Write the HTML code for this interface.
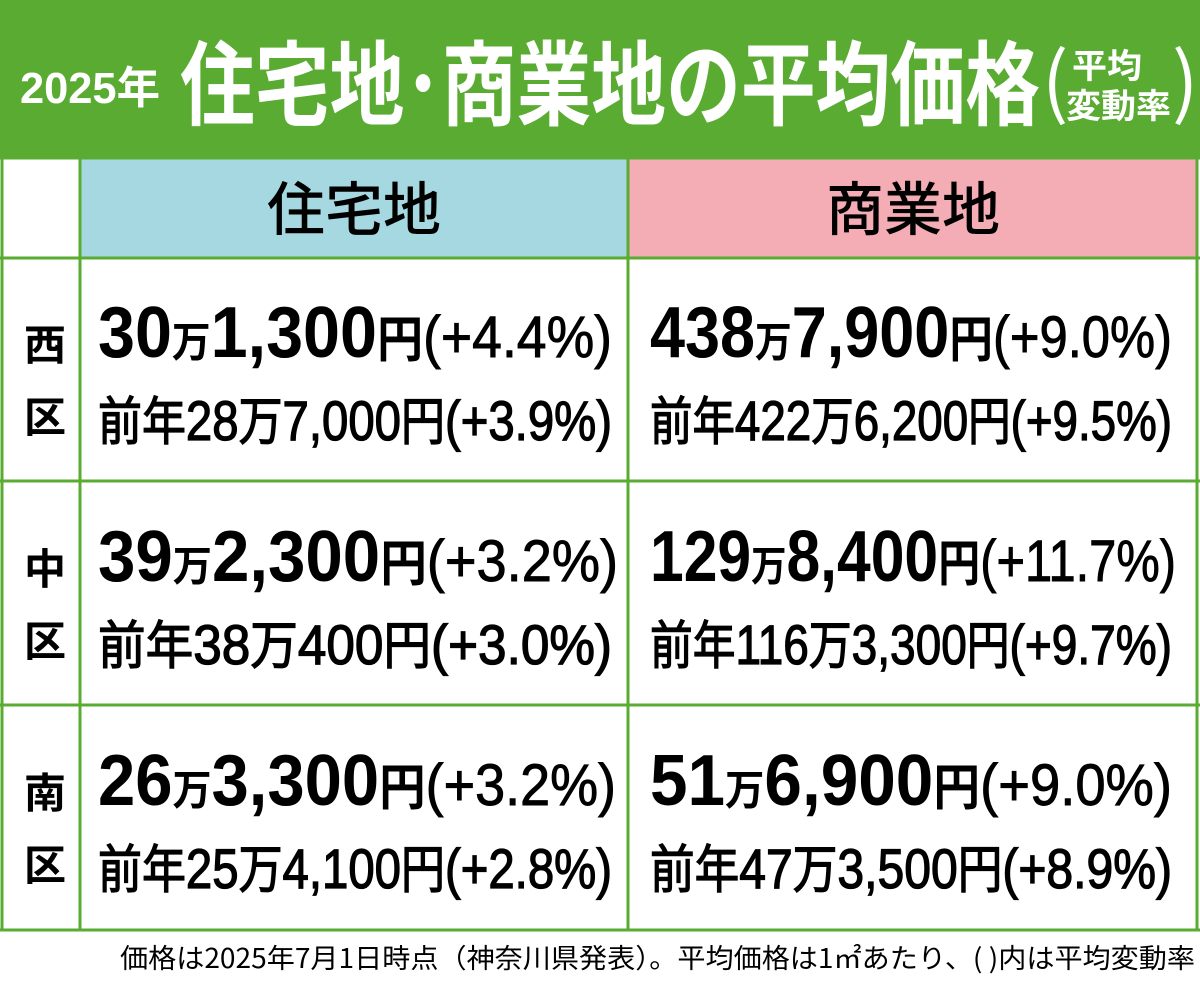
<!DOCTYPE html>
<html><head><meta charset="utf-8"><style>
html,body{margin:0;padding:0;background:#fff}
svg{display:block}
text{font-family:"Liberation Sans","Noto Sans CJK JP",sans-serif}
.j{font-family:"Noto Sans CJK JP","Liberation Sans",sans-serif}
.s{font-weight:normal;stroke:#000;stroke-width:1.3}
.p{font-weight:normal;stroke:#000;stroke-width:0.9}
</style></head><body>
<svg width="1200" height="981" viewBox="0 0 1200 981" xmlns="http://www.w3.org/2000/svg">
<rect x="0" y="0" width="1200" height="158" fill="#5aab32"/>
<text x="20" y="103" font-size="44" font-weight="bold" fill="#fff" textLength="140" lengthAdjust="spacingAndGlyphs">2025<tspan class="j">年</tspan></text>
<text class="j" x="180" y="118" font-size="92" font-weight="bold" fill="#fff" textLength="860" lengthAdjust="spacingAndGlyphs">住宅地･商業地の平均価格</text>
<text class="j" x="1042" y="110" font-size="78" fill="#fff">(</text>
<text class="j" x="1172" y="110" font-size="78" fill="#fff">)</text>
<text class="j" x="1072" y="78" font-size="34" font-weight="bold" fill="#fff" textLength="70" lengthAdjust="spacingAndGlyphs">平均</text>
<text class="j" x="1066" y="118" font-size="34" font-weight="bold" fill="#fff" textLength="105" lengthAdjust="spacingAndGlyphs">変動率</text>

<rect x="80" y="158" width="548" height="100" fill="#a5d8e0"/>
<rect x="628" y="158" width="569" height="100" fill="#f4adb5"/>
<g stroke="#5aab32" stroke-width="3" fill="none">
<line x1="0" y1="158" x2="1200" y2="158"/>
<line x1="0" y1="258" x2="1200" y2="258"/>
<line x1="0" y1="481" x2="1200" y2="481"/>
<line x1="0" y1="705" x2="1200" y2="705"/>
<line x1="0" y1="930" x2="1200" y2="930"/>
<line x1="2" y1="158" x2="2" y2="930"/>
<line x1="80" y1="158" x2="80" y2="930"/>
<line x1="628" y1="158" x2="628" y2="930"/>
<line x1="1197" y1="158" x2="1197" y2="930"/>
</g>
<text class="j" x="354" y="230" font-size="58" font-weight="500" text-anchor="middle">住宅地</text>
<text class="j" x="913" y="230" font-size="58" font-weight="500" text-anchor="middle">商業地</text>

<g class="j" font-size="42" font-weight="bold" text-anchor="middle">
<text class="j" x="45" y="360">西</text><text class="j" x="45" y="432">区</text>
<text class="j" x="45" y="584">中</text><text class="j" x="45" y="656">区</text>
<text class="j" x="45" y="808">南</text><text class="j" x="45" y="880">区</text>
</g>

<text x="98" y="357" font-size="72" font-weight="bold" textLength="514" lengthAdjust="spacingAndGlyphs">30<tspan class="j" font-size="42">万</tspan>1,300<tspan class="j" font-size="50">円</tspan><tspan class="p" font-size="58">(+4.4%)</tspan></text>
<text class="s" x="98" y="440" font-size="56" textLength="514" lengthAdjust="spacingAndGlyphs"><tspan class="j" font-size="52">前年</tspan>28<tspan class="j" font-size="52">万</tspan>7,000<tspan class="j" font-size="52">円</tspan>(+3.9%)</text>
<text x="650" y="357" font-size="72" font-weight="bold" textLength="522" lengthAdjust="spacingAndGlyphs">438<tspan class="j" font-size="42">万</tspan>7,900<tspan class="j" font-size="50">円</tspan><tspan class="p" font-size="58">(+9.0%)</tspan></text>
<text class="s" x="650" y="440" font-size="56" textLength="522" lengthAdjust="spacingAndGlyphs"><tspan class="j" font-size="52">前年</tspan>422<tspan class="j" font-size="52">万</tspan>6,200<tspan class="j" font-size="52">円</tspan>(+9.5%)</text>

<text x="98" y="581" font-size="72" font-weight="bold" textLength="520" lengthAdjust="spacingAndGlyphs">39<tspan class="j" font-size="42">万</tspan>2,300<tspan class="j" font-size="50">円</tspan><tspan class="p" font-size="58">(+3.2%)</tspan></text>
<text class="s" x="98" y="664" font-size="56" textLength="514" lengthAdjust="spacingAndGlyphs"><tspan class="j" font-size="52">前年</tspan>38<tspan class="j" font-size="52">万</tspan>400<tspan class="j" font-size="52">円</tspan>(+3.0%)</text>
<text x="650" y="581" font-size="72" font-weight="bold" textLength="526" lengthAdjust="spacingAndGlyphs">129<tspan class="j" font-size="42">万</tspan>8,400<tspan class="j" font-size="50">円</tspan><tspan class="p" font-size="58">(+11.7%)</tspan></text>
<text class="s" x="650" y="664" font-size="56" textLength="522" lengthAdjust="spacingAndGlyphs"><tspan class="j" font-size="52">前年</tspan>116<tspan class="j" font-size="52">万</tspan>3,300<tspan class="j" font-size="52">円</tspan>(+9.7%)</text>

<text x="98" y="805" font-size="72" font-weight="bold" textLength="518" lengthAdjust="spacingAndGlyphs">26<tspan class="j" font-size="42">万</tspan>3,300<tspan class="j" font-size="50">円</tspan><tspan class="p" font-size="58">(+3.2%)</tspan></text>
<text class="s" x="98" y="888" font-size="56" textLength="514" lengthAdjust="spacingAndGlyphs"><tspan class="j" font-size="52">前年</tspan>25<tspan class="j" font-size="52">万</tspan>4,100<tspan class="j" font-size="52">円</tspan>(+2.8%)</text>
<text x="650" y="805" font-size="72" font-weight="bold" textLength="522" lengthAdjust="spacingAndGlyphs">51<tspan class="j" font-size="42">万</tspan>6,900<tspan class="j" font-size="50">円</tspan><tspan class="p" font-size="58">(+9.0%)</tspan></text>
<text class="s" x="650" y="888" font-size="56" textLength="522" lengthAdjust="spacingAndGlyphs"><tspan class="j" font-size="52">前年</tspan>47<tspan class="j" font-size="52">万</tspan>3,500<tspan class="j" font-size="52">円</tspan>(+8.9%)</text>

<text class="j" x="120" y="968" font-size="27" textLength="1075" lengthAdjust="spacingAndGlyphs">価格は2025年7月1日時点（神奈川県発表）。平均価格は1㎡あたり、( )内は平均変動率</text>
</svg>
</body></html>
